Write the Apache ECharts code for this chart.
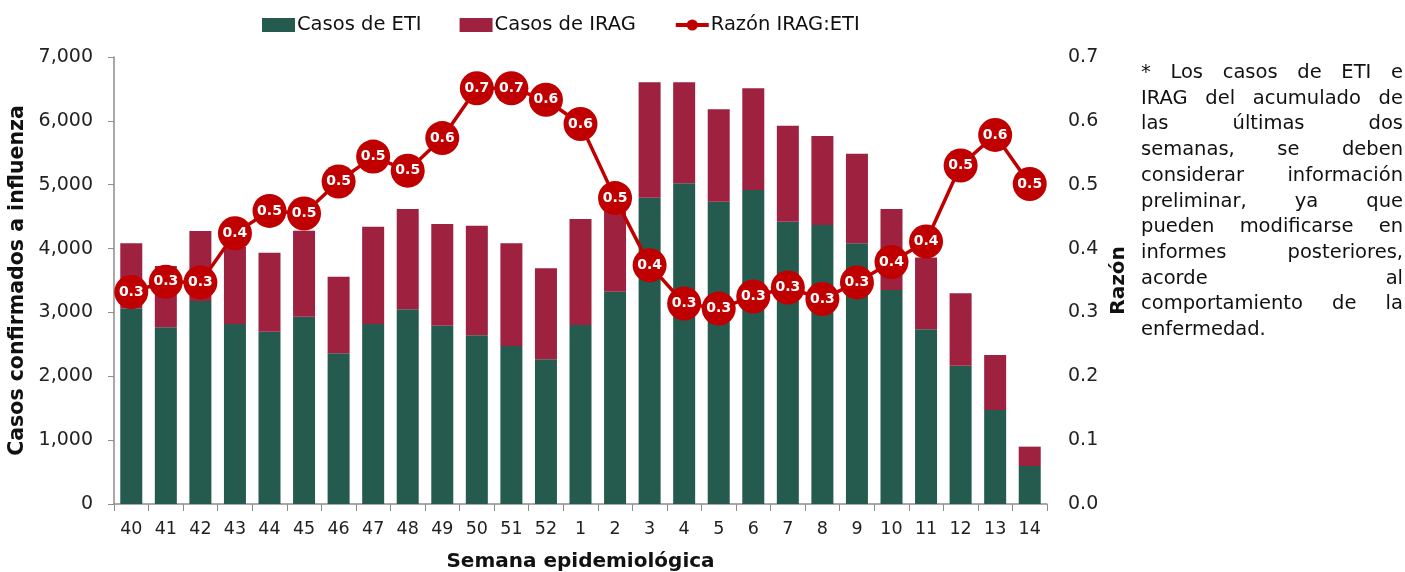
<!DOCTYPE html>
<html>
<head>
<meta charset="utf-8">
<script src="https://cdn.jsdelivr.net/npm/echarts@6/dist/echarts.min.js"></script>
<style>
  html, body { margin: 0; padding: 0; background: #fff; overflow: hidden; }
  #chart { position: absolute; left: 0; top: 0; width: 1405px; height: 572px; }
  #note { position: absolute; left: 1141px; top: 59px; width: 262px; font-family: "DejaVu Sans", sans-serif; font-size: 19.5px; line-height: 25.7px; color: #111; }
  #note span { display: block; text-align: justify; text-align-last: justify; white-space: nowrap; }
  #note span.last { text-align-last: left; }
</style>
</head>
<body>
<div id="chart"></div>
<div id="note">
  <span>* Los casos de ETI e</span>
  <span>IRAG del acumulado de</span>
  <span>las últimas dos</span>
  <span>semanas, se deben</span>
  <span>considerar información</span>
  <span>preliminar, ya que</span>
  <span>pueden modificarse en</span>
  <span>informes posteriores,</span>
  <span>acorde al</span>
  <span>comportamiento de la</span>
  <span class="last">enfermedad.</span>
</div>
<script>
const weeks = ['40','41','42','43','44','45','46','47','48','49','50','51','52','1','2','3','4','5','6','7','8','9','10','11','12','13','14'];
const casosETI = [3064,2767,3179,2819,2699,2934,2360,2819,3049,2793,2642,2474,2266,2803,3325,4797,5022,4734,4917,4421,4369,4082,3351,2735,2166,1472,595];
const casosIRAG = [1018,960,1096,1210,1237,1346,1200,1524,1571,1592,1716,1608,1424,1660,1265,1806,1581,1446,1593,1503,1394,1404,1269,1125,1133,861,303];
const razon = [0.332,0.348,0.347,0.424,0.459,0.455,0.505,0.544,0.522,0.573,0.651,0.651,0.633,0.595,0.479,0.374,0.314,0.306,0.325,0.339,0.321,0.347,0.379,0.411,0.530,0.578,0.501];

const FONT = '"DejaVu Sans", sans-serif';
const chart = echarts.init(document.getElementById('chart'), null, { renderer: 'canvas' });
chart.setOption({
  animation: false,
  textStyle: { fontFamily: FONT },
  legend: {
    top: 10,
    left: 257,
    itemGap: 38,
    itemWidth: 33,
    itemHeight: 14,
    textStyle: { fontFamily: FONT, fontSize: 19.5, color: '#111', padding: [0, 0, 0, -3] },
    data: [
      { name: 'Casos de ETI', icon: 'rect' },
      { name: 'Casos de IRAG', icon: 'rect' },
      { name: 'Razón IRAG:ETI', lineStyle: { width: 4 } }
    ]
  },
  grid: { left: 114, right: 358, top: 57, bottom: 68, outerBoundsMode: 'none' },
  xAxis: {
    type: 'category',
    data: weeks,
    name: 'Semana epidemiológica',
    nameLocation: 'middle',
    nameGap: 48,
    nameTextStyle: { fontFamily: FONT, fontSize: 20, fontWeight: 'bold', color: '#111' },
    axisLine: { lineStyle: { color: '#8c8c8c', width: 1.5 } },
    axisTick: { show: true, length: 7, lineStyle: { color: '#8c8c8c' } },
    axisLabel: { fontFamily: FONT, fontSize: 17.5, color: '#222', margin: 16, interval: 0 }
  },
  yAxis: [
    {
      type: 'value',
      min: 0, max: 7000, interval: 1000,
      name: 'Casos confirmados a influenza',
      nameLocation: 'middle',
      nameRotate: 90,
      nameGap: 86,
      nameTextStyle: { fontFamily: FONT, fontSize: 20.5, fontWeight: 'bold', color: '#111' },
      axisLine: { show: true, lineStyle: { color: '#8c8c8c', width: 1.5 } },
      axisTick: { show: true, length: 6, lineStyle: { color: '#8c8c8c' } },
      splitLine: { show: false },
      axisLabel: { fontFamily: FONT, fontSize: 19, color: '#222', margin: 21,
        formatter: v => v.toLocaleString('en-US') }
    },
    {
      type: 'value',
      min: 0, max: 0.7, interval: 0.1,
      name: 'Razón',
      nameLocation: 'middle',
      nameRotate: 90,
      nameGap: 62,
      nameTextStyle: { fontFamily: FONT, fontSize: 20, fontWeight: 'bold', color: '#111' },
      axisLine: { show: false },
      axisTick: { show: false },
      splitLine: { show: false },
      axisLabel: { fontFamily: FONT, fontSize: 19, color: '#222', margin: 21,
        formatter: v => v.toFixed(1) }
    }
  ],
  series: [
    {
      name: 'Casos de ETI', type: 'bar', stack: 'casos', barWidth: 22,
      itemStyle: { color: '#245b4e' },
      data: casosETI
    },
    {
      name: 'Casos de IRAG', type: 'bar', stack: 'casos', barWidth: 22,
      itemStyle: { color: '#9e2140' },
      data: casosIRAG
    },
    {
      name: 'Razón IRAG:ETI', type: 'line', yAxisIndex: 1,
      symbol: 'circle', symbolSize: 34,
      lineStyle: { color: '#c00000', width: 3.5 },
      itemStyle: { color: '#c00000' },
      label: {
        show: true, position: 'inside', color: '#fff', fontFamily: FONT,
        fontSize: 14, fontWeight: 'bold',
        formatter: p => p.value.toFixed(1)
      },
      data: razon,
      z: 5
    }
  ]
});
</script>
</body>
</html>
